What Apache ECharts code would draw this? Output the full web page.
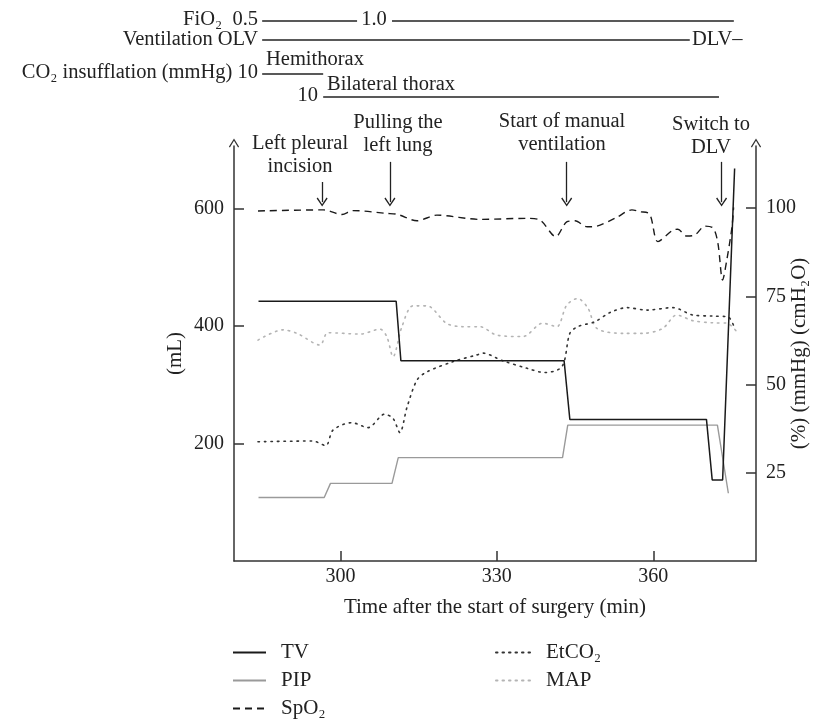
<!DOCTYPE html>
<html><head><meta charset="utf-8">
<script src="https://cdn.jsdelivr.net/npm/echarts@6/dist/echarts.min.js"></script>
<style>html,body{margin:0;padding:0;background:#fff}#c{width:826px;height:720px}</style>
</head><body><div id="c"></div>
<script>
// ---- data (time in min after start of surgery) ----
const xTicks = [300, 330, 360];
const leftTicks = [200, 400, 600];
const rightTicks = [25, 50, 75, 100];

// TV (mL, left axis)
const tvData = [[284.3,442],[310.7,442],[311.6,341],[342.9,341],[344.0,241],[370.2,241],[371.3,138],[373.3,138],[375.6,668]];
// PIP (cmH2O, right axis)
const pipData = [[284.3,18],[296.9,18],[298.1,22],[309.9,22],[311.1,29.3],[342.6,29.3],[343.6,38.5],[372.3,38.5],[374.4,19.2]];
// SpO2 (%, right axis)
const spo2Data = [[284.2,99.2],[296.7,99.5],[300.3,98.2],[302.4,99.3],[308.9,98.5],[311.0,98.2],[314.7,96.4],[318.5,98.0],[326.8,96.8],[335.8,97.1],[338.3,96.6],[341.3,91.9],[343.4,96.1],[345.0,96.4],[347.3,94.7],[349.2,94.9],[353.0,97.4],[355.9,99.5],[357.4,99.0],[359.3,98.3],[360.9,90.5],[363.8,93.8],[364.7,94.0],[366.4,92.1],[368.0,92.4],[369.9,94.9],[371.5,94.3],[372.4,90.0],[373.3,79.6],[374.1,85.3],[375.1,94.7],[375.4,100.2]];
// EtCO2 (mmHg, right axis)
const etco2Data = [[284.2,33.8],[294.7,34.0],[297.2,32.7],[298.6,37.1],[302.2,39.2],[305.3,37.8],[308.5,41.6],[310.1,40.4],[311.4,36.4],[312.8,43.7],[314.7,51.3],[316.6,53.6],[321.6,56.5],[326.2,58.4],[327.3,58.9],[331.2,56.7],[335.8,54.6],[339.2,53.4],[342.5,55.1],[344.0,64.5],[345.5,66.4],[348.8,67.8],[351.7,70.4],[354.9,71.8],[358.8,71.1],[363.8,71.8],[367.6,69.7],[371.4,69.4],[374.3,69.2],[375.6,66.0]];
// MAP (mmHg, right axis)
const mapData = [[284.2,62.6],[289.0,65.5],[291.7,64.5],[296.1,61.2],[297.6,64.7],[303.8,64.3],[307.6,65.7],[308.9,63.6],[310.1,57.9],[311.8,66.4],[313.9,72.3],[316.6,72.3],[320.4,67.3],[323.5,66.4],[326.8,66.4],[330.0,64.0],[335.0,63.6],[338.8,67.4],[341.5,66.4],[343.4,72.5],[345.5,74.4],[347.5,71.6],[349.2,65.9],[354.2,64.5],[358.0,64.5],[361.8,65.9],[364.5,69.7],[367.6,68.1],[371.4,67.5],[374.1,67.4],[376.0,65.0]];

// event times (arrows)
const eventTimes = [296.5, 309.5, 343.4, 373.1];
const eventLabels = ['Left pleural\nincision', 'Pulling the\nleft lung', 'Start of manual\nventilation', 'Switch to\nDLV'];

// header timeline spans (min)
const fio2Spans = [[285.0, 303.2], [309.9, 375.45]];
const ventSpan = [285.0, 367.0];
const hemiSpan = [285.0, 296.7];
const bilatSpan = [296.7, 372.6];

// ---- style ----
const FONT = 'Liberation Serif';
const FS = 21;
const FS_HDR = 20.5;
const FS_TICK = 20;
const TXT = '#222';
const AX = '#333';
const arrowPath = 'path://M0,8 L5,0 L10,8 L9,8.8 L5,2.2 L1,8.8 Z';
const X_MIN = 279.6, X_MAX = 379.7;
const fnt = `${FS}px "${FONT}"`;
const fntH = `${FS_HDR}px "${FONT}"`;

const chart = echarts.init(document.getElementById('c'), null, {renderer: 'canvas'});

function hdrLine(span, row) {
  return {
    type: 'line', xAxisIndex: 1, yAxisIndex: 2, symbol: 'none', silent: true,
    lineStyle: {color: TXT, width: 1.3}, data: [[span[0], row], [span[1], row]]
  };
}
const headerRows = {fio2: 21, vent: 40, hemi: 74, bilat: 97};

const arrowTop = [107.4, 113.1, 113.1, 113.1];
const arrowBottom = 101.7;

const legendCommon = {
  orient: 'vertical', top: 642, padding: 0, itemHeight: 14, itemGap: 7,
  itemStyle: {color: 'rgba(0,0,0,0)', borderWidth: 0, opacity: 0},
  textStyle: {fontFamily: FONT, fontSize: FS, color: TXT, lineHeight: 20}
};

const option = {
  animation: false,
  backgroundColor: '#fff',
  textStyle: {fontFamily: FONT, color: TXT},
  grid: [
    {left: 234, width: 522, top: 146, height: 415, outerBoundsMode: 'none', containLabel: false},
    {left: 234, width: 522, top: 0, height: 100, outerBoundsMode: 'none', containLabel: false}
  ],
  xAxis: [
    {
      type: 'value', gridIndex: 0, min: X_MIN, max: X_MAX,
      name: 'Time after the start of surgery (min)', nameLocation: 'middle', nameGap: 36, nameMoveOverlap: false,
      nameTextStyle: {fontFamily: FONT, fontSize: FS, color: TXT},
      axisLine: {show: true, lineStyle: {color: AX, width: 1.5}},
      axisTick: {show: true, inside: true, length: 10, customValues: xTicks, lineStyle: {color: AX, width: 1.5}},
      axisLabel: {customValues: xTicks, fontFamily: FONT, fontSize: FS_TICK, color: TXT, margin: 6},
      splitLine: {show: false}
    },
    {type: 'value', gridIndex: 1, min: X_MIN, max: X_MAX, show: false}
  ],
  yAxis: [
    {
      type: 'value', gridIndex: 0, position: 'left', min: 0, max: 706.4,
      name: '(mL)', nameLocation: 'middle', nameGap: 48, nameRotate: 90, nameMoveOverlap: false,
      nameTextStyle: {fontFamily: FONT, fontSize: FS, color: TXT},
      axisLine: {show: true, symbol: ['none', arrowPath], symbolSize: [11, 9], symbolOffset: [0, 3], lineStyle: {color: AX, width: 1.5}},
      axisTick: {show: true, inside: true, length: 10, customValues: leftTicks, lineStyle: {color: AX, width: 1.5}},
      axisLabel: {customValues: leftTicks, fontFamily: FONT, fontSize: FS_TICK, color: TXT, margin: 10},
      splitLine: {show: false}
    },
    {
      type: 'value', gridIndex: 0, position: 'right', min: 0, max: 117.6,
      name: '(%) (mmHg) (cmH\u2082O)', nameLocation: 'middle', nameGap: 33, nameRotate: 90, nameMoveOverlap: false,
      nameTextStyle: {fontFamily: FONT, fontSize: FS, color: TXT},
      axisLine: {show: true, symbol: ['none', arrowPath], symbolSize: [11, 9], symbolOffset: [0, 3], lineStyle: {color: AX, width: 1.5}},
      axisTick: {show: true, inside: true, length: 10, customValues: rightTicks, lineStyle: {color: AX, width: 1.5}},
      axisLabel: {customValues: rightTicks, fontFamily: FONT, fontSize: FS_TICK, color: TXT, margin: 10},
      splitLine: {show: false}
    },
    {type: 'value', gridIndex: 1, min: 0, max: 100, inverse: true, show: false}
  ],
  legend: [
    Object.assign({}, legendCommon, {
      data: ['TV', 'PIP', 'SpO\u2082'], left: 232, itemWidth: 33,
      textStyle: Object.assign({}, legendCommon.textStyle, {padding: [0, 0, 0, 10]})
    }),
    Object.assign({}, legendCommon, {
      data: ['EtCO\u2082', 'MAP'], left: 495, itemWidth: 37,
      textStyle: Object.assign({}, legendCommon.textStyle, {padding: [0, 0, 0, 8]})
    })
  ],
  series: [
    {
      name: 'PIP', type: 'line', yAxisIndex: 1, symbol: 'none', data: pipData,
      lineStyle: {color: '#9a9a9a', width: 1.4}, itemStyle: {color: '#9a9a9a'}
    },
    {
      name: 'MAP', type: 'line', yAxisIndex: 1, symbol: 'none', smooth: 0.3, data: mapData,
      lineStyle: {color: '#b4b4b4', width: 1.6, type: [1.5, 5], cap: 'round'}, itemStyle: {color: '#b4b4b4'}
    },
    {
      name: 'EtCO\u2082', type: 'line', yAxisIndex: 1, symbol: 'none', smooth: 0.3, data: etco2Data,
      lineStyle: {color: '#333', width: 1.6, type: [1.5, 5], cap: 'round'}, itemStyle: {color: '#333'}
    },
    {
      name: 'SpO\u2082', type: 'line', yAxisIndex: 1, symbol: 'none', smooth: 0.3, data: spo2Data,
      lineStyle: {color: '#1a1a1a', width: 1.4, type: [7, 5]}, itemStyle: {color: '#1a1a1a'},
      markLine: {
        silent: true, symbol: ['none', arrowPath], symbolSize: [11, 9],
        label: {show: false},
        lineStyle: {color: '#222', width: 1.3, type: 'solid'},
        data: eventTimes.map((t, i) => [{coord: [t, arrowTop[i]]}, {coord: [t, arrowBottom]}])
      }
    },
    {
      name: 'TV', type: 'line', yAxisIndex: 0, symbol: 'none', data: tvData,
      lineStyle: {color: '#1a1a1a', width: 1.5}, itemStyle: {color: '#1a1a1a'}
    },
    hdrLine(fio2Spans[0], headerRows.fio2),
    hdrLine(fio2Spans[1], headerRows.fio2),
    hdrLine(ventSpan, headerRows.vent),
    hdrLine(hemiSpan, headerRows.hemi),
    hdrLine(bilatSpan, headerRows.bilat)
  ],
  graphic: [
    // header texts
    {type: 'text', x: 258, y: 20, style: {text: 'FiO\u2082  0.5', font: fntH, fill: TXT, align: 'right', verticalAlign: 'middle'}},
    {type: 'text', x: 374, y: 20, style: {text: '1.0', font: fntH, fill: TXT, align: 'center', verticalAlign: 'middle'}},
    {type: 'text', x: 258, y: 40, style: {text: 'Ventilation OLV', font: fntH, fill: TXT, align: 'right', verticalAlign: 'middle'}},
    {type: 'text', x: 692, y: 40, style: {text: 'DLV\u2013', font: fntH, fill: TXT, align: 'left', verticalAlign: 'middle'}},
    {type: 'text', x: 258, y: 73, style: {text: 'CO\u2082 insufflation (mmHg) 10', font: fntH, fill: TXT, align: 'right', verticalAlign: 'middle'}},
    {type: 'text', x: 266, y: 60, style: {text: 'Hemithorax', font: fntH, fill: TXT, align: 'left', verticalAlign: 'middle'}},
    {type: 'text', x: 318, y: 96, style: {text: '10', font: fntH, fill: TXT, align: 'right', verticalAlign: 'middle'}},
    {type: 'text', x: 327, y: 85, style: {text: 'Bilateral thorax', font: fntH, fill: TXT, align: 'left', verticalAlign: 'middle'}},
    // event annotations
    {type: 'text', x: 300, y: 155, style: {text: eventLabels[0], font: fntH, fill: TXT, align: 'center', verticalAlign: 'middle', lineHeight: 23}},
    {type: 'text', x: 398, y: 134, style: {text: eventLabels[1], font: fntH, fill: TXT, align: 'center', verticalAlign: 'middle', lineHeight: 23}},
    {type: 'text', x: 562, y: 133, style: {text: eventLabels[2], font: fntH, fill: TXT, align: 'center', verticalAlign: 'middle', lineHeight: 23}},
    {type: 'text', x: 711, y: 136, style: {text: eventLabels[3], font: fntH, fill: TXT, align: 'center', verticalAlign: 'middle', lineHeight: 23}}
  ]
};
chart.setOption(option);
</script>
</body></html>
